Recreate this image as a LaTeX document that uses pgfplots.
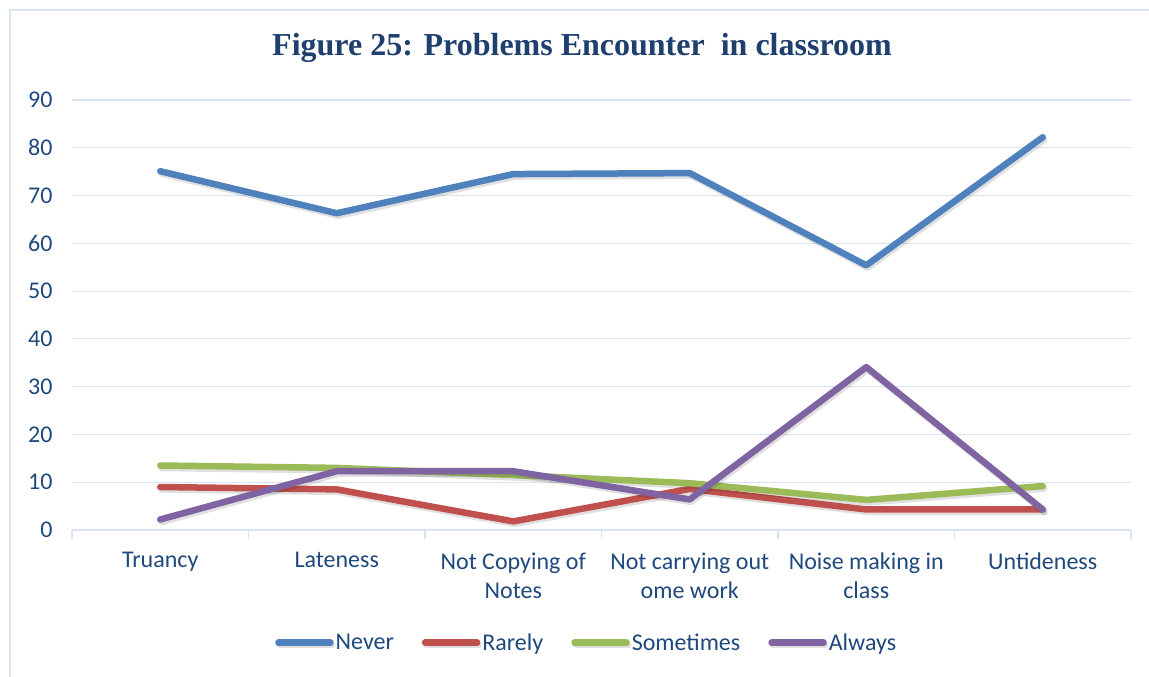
\documentclass[border=0pt]{standalone}
\usepackage{pgfplots}
\pgfplotsset{compat=1.18}
\usepackage{fontspec}
\setmainfont{Carlito}
\newfontfamily\titlefont{Liberation Serif}
\definecolor{cnever}{HTML}{4F81BD}
\definecolor{crarely}{HTML}{C0504D}
\definecolor{csome}{HTML}{9BBB59}
\definecolor{calways}{HTML}{8064A2}
\definecolor{gridc}{HTML}{D9E3F1}
\definecolor{tickc}{HTML}{1F497D}
\definecolor{titlec}{HTML}{1F3F6E}
\begin{document}
\begin{tikzpicture}[x=1pt,y=1pt]
\useasboundingbox (0,0) rectangle (1149,-677);
\draw[gridc, line width=1.5pt] (10,-677) -- (10,-10) -- (1149,-10);
\node[text=titlec, font=\titlefont\bfseries\fontsize{32}{36}\selectfont] at (582,-48) {Figure 25: Problems Encounter\ \ in classroom};
\begin{axis}[
  at={(72pt,-530pt)}, anchor=south west,
  scale only axis, width=1059pt, height=430pt,
  xmin=0, xmax=6, ymin=0, ymax=90,
  ytick={0,10,...,90},
  /pgf/number format/assume math mode=true,
  ymajorgrids, grid style={gridc, line width=1.2pt},
  axis x line*=bottom, axis y line*=left,
  y axis line style={draw=none},
  x axis line style={gridc, line width=1.2pt},
  ytick style={draw=none},
  xtick={0.5,1.5,2.5,3.5,4.5,5.5},
  xticklabels={Truancy, Lateness, {Not Copying of\\Notes}, {Not carrying out\\ome work}, {Noise making in\\class}, Untideness},
  minor xtick={0,1,2,3,4,5,6},
  major tick length=0pt, minor tick length=9pt, tick align=outside,
  minor x tick style={gridc, line width=1.2pt},
  tick label style={font=\fontsize{24}{29}\selectfont, text=tickc},
  xticklabel style={align=center, yshift=-19pt},
  yticklabel style={xshift=-16pt},
  legend style={at={(0.486,-0.262)}, anchor=center, draw=none, legend columns=4,
    font=\fontsize{24}{28}\selectfont, text=tickc,
    /tikz/every even column/.append style={column sep=26pt}},
  legend image code/.code={\draw[#1, line cap=round] (0pt,0pt) -- (52pt,0pt);},
  every axis plot/.append style={line width=6.5pt, line join=round, line cap=round, mark=none},
  shadow/.style={preaction={draw, black, opacity=0.12, transform canvas={xshift=1.5pt, yshift=-2.5pt}}},
]
\addplot[cnever, shadow] coordinates {(0.5,75.1) (1.5,66.3) (2.5,74.5) (3.5,74.7) (4.5,55.4) (5.5,82.2)};
\addplot[crarely, shadow] coordinates {(0.5,9.0) (1.5,8.5) (2.5,1.8) (3.5,8.6) (4.5,4.3) (5.5,4.3)};
\addplot[csome, shadow] coordinates {(0.5,13.5) (1.5,13.0) (2.5,11.5) (3.5,9.8) (4.5,6.3) (5.5,9.2)};
\addplot[calways, shadow] coordinates {(0.5,2.2) (1.5,12.3) (2.5,12.3) (3.5,6.4) (4.5,34.1) (5.5,4.3)};
\legend{Never, Rarely, Sometimes, Always}
\end{axis}
\end{tikzpicture}
\end{document}
